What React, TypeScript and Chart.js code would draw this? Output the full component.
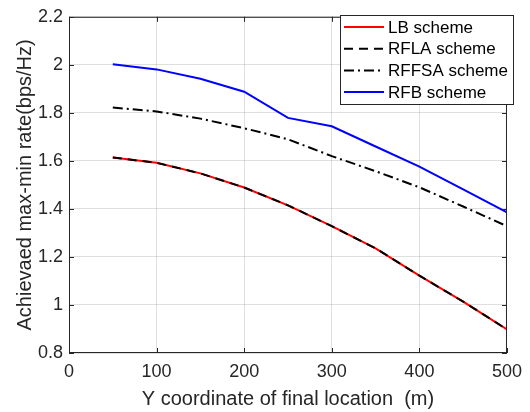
import React, { useEffect, useRef } from "react";
import { Chart, registerables } from "chart.js";

Chart.register(...registerables);

const xValues = [50, 100, 150, 200, 250, 300, 350, 400, 450, 500];
const lbScheme = [1.614, 1.592, 1.548, 1.489, 1.415, 1.328, 1.236, 1.122, 1.014, 0.898];
const rflaScheme = [1.614, 1.592, 1.548, 1.489, 1.415, 1.328, 1.236, 1.122, 1.014, 0.898];
const rffsaScheme = [1.822, 1.806, 1.776, 1.736, 1.69, 1.62, 1.557, 1.49, 1.41, 1.328];
const rfbScheme = [2.002, 1.981, 1.942, 1.888, 1.779, 1.744, 1.66, 1.576, 1.481, 1.386];

const seriesNames = ["LB scheme", "RFLA scheme", "RFFSA scheme", "RFB scheme"];
const xTitle = "Y coordinate of final location  (m)";
const yTitle = "Achievaed max-min rate(bps/Hz)";

const FONT = "'Liberation Sans', Arial, Helvetica, sans-serif";
const AXIS_COLOR = "#262626";

const styles = [
  { color: "#ff0000", dash: [] as number[] },
  { color: "#000000", dash: [9, 6] },
  { color: "#000000", dash: [10, 4, 2, 4] },
  { color: "#0000ff", dash: [] as number[] },
];

const framePlugin = {
  id: "frame",
  afterDraw(chart: any) {
    const { ctx, chartArea } = chart;
    const { left, right, top, bottom } = chartArea;
    ctx.save();
    ctx.strokeStyle = AXIS_COLOR;
    ctx.lineWidth = 1;
    ctx.strokeRect(left + 0.5, top + 0.5, right - left - 1, bottom - top - 1);
    const xs = chart.scales.x;
    const ys = chart.scales.y;
    const tl = 5;
    ctx.beginPath();
    xs.ticks.forEach((t: any) => {
      const px = Math.round(xs.getPixelForValue(t.value)) + 0.5;
      ctx.moveTo(px, bottom);
      ctx.lineTo(px, bottom - tl);
      ctx.moveTo(px, top);
      ctx.lineTo(px, top + tl);
    });
    ys.ticks.forEach((t: any) => {
      const py = Math.round(ys.getPixelForValue(t.value)) + 0.5;
      ctx.moveTo(left, py);
      ctx.lineTo(left + tl, py);
      ctx.moveTo(right, py);
      ctx.lineTo(right - tl, py);
    });
    ctx.stroke();

    // legend
    const lx = 340, ly = 15, lw = 174, lh = 90;
    ctx.fillStyle = "#ffffff";
    ctx.fillRect(lx, ly, lw, lh);
    ctx.strokeStyle = AXIS_COLOR;
    ctx.strokeRect(lx + 0.5, ly + 0.5, lw - 1, lh - 1);
    ctx.font = `17px ${FONT}`;
    ctx.textBaseline = "middle";
    ctx.textAlign = "left";
    seriesNames.forEach((name, i) => {
      const cy = 27 + i * 21.7;
      ctx.beginPath();
      ctx.strokeStyle = styles[i].color;
      ctx.lineWidth = 2;
      ctx.setLineDash(styles[i].dash);
      ctx.moveTo(344, cy);
      ctx.lineTo(384, cy);
      ctx.stroke();
      ctx.setLineDash([]);
      ctx.fillStyle = "#000000";
      ctx.fillText(name, 388, cy + 1);
    });
    ctx.restore();
  },
};

export default function App() {
  const ref = useRef<HTMLCanvasElement | null>(null);
  useEffect(() => {
    if (!ref.current) return;
    const allSeries = [lbScheme, rflaScheme, rffsaScheme, rfbScheme];
    const orders = [4, 3, 2, 1];
    const chart = new Chart(ref.current, {
      type: "line",
      data: {
        datasets: allSeries.map((s, i) => ({
          label: seriesNames[i],
          data: s.map((v, j) => ({ x: xValues[j], y: v })),
          borderColor: styles[i].color,
          borderDash: styles[i].dash,
          borderWidth: 2,
          pointRadius: 0,
          tension: 0,
          fill: false,
          order: orders[i],
        })),
      },
      options: {
        animation: false,
        responsive: false,
        layout: { padding: { top: 15, right: 16, left: 0, bottom: 0 } },
        plugins: { legend: { display: false }, tooltip: { enabled: false } },
        scales: {
          x: {
            type: "linear",
            min: 0,
            max: 500,
            ticks: { stepSize: 100, padding: 8, color: AXIS_COLOR, font: { family: FONT, size: 18 } },
            grid: { color: "rgba(38,38,38,0.15)", drawTicks: false },
            border: { display: false },
            title: { display: true, text: xTitle, color: AXIS_COLOR, font: { family: FONT, size: 20 }, padding: { top: 0, bottom: 1 } },
            afterFit: (s: any) => { s.height = 59; },
          },
          y: {
            type: "linear",
            min: 0.8,
            max: 2.2,
            ticks: {
              stepSize: 0.2,
              padding: 6,
              color: AXIS_COLOR,
              font: { family: FONT, size: 18 },
              callback: (v: any) => String(Number(Number(v).toFixed(1))),
            },
            grid: { color: "rgba(38,38,38,0.15)", drawTicks: false },
            border: { display: false },
            title: { display: true, text: yTitle, color: AXIS_COLOR, font: { family: FONT, size: 20 }, padding: { top: 13, bottom: 0 } },
            afterFit: (s: any) => { s.width = 69; },
          },
        },
      },
      plugins: [framePlugin],
    });
    return () => chart.destroy();
  }, []);
  return (
    <canvas
      ref={ref}
      width={530}
      height={412}
      style={{ position: "fixed", left: 0, top: 0, width: 530, height: 412, background: "#fff" }}
    />
  );
}
